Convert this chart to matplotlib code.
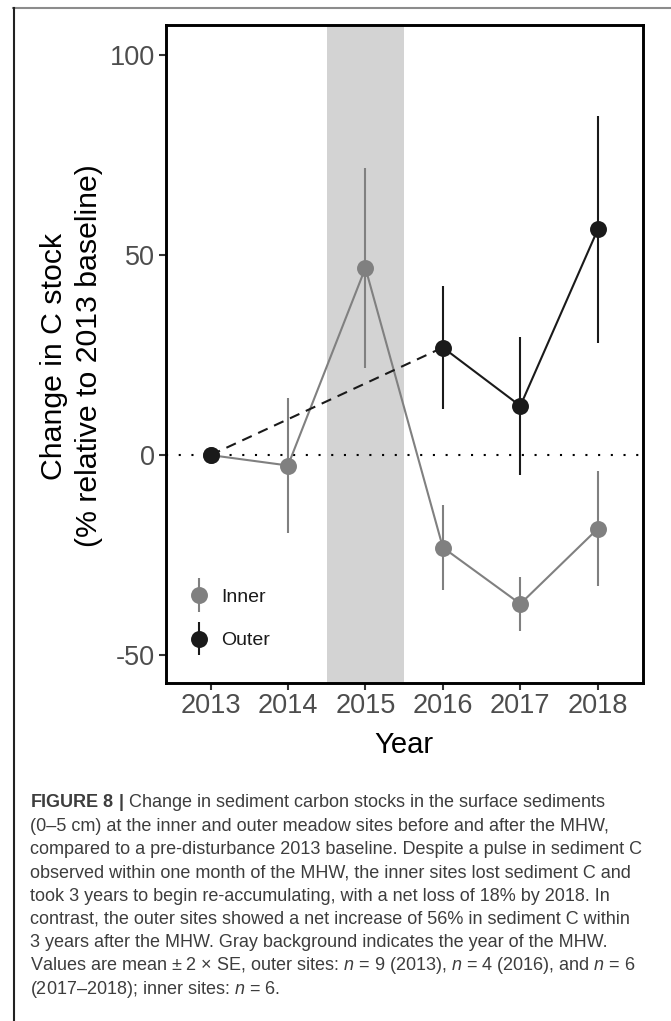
import matplotlib
matplotlib.use("Agg")
import matplotlib.pyplot as plt
from matplotlib import font_manager
from matplotlib.lines import Line2D
from matplotlib.container import ErrorbarContainer
from matplotlib.legend_handler import HandlerErrorbar

# ---------------- data ----------------
years = [2013, 2014, 2015, 2016, 2017, 2018]
inner_mean = [0.0, -2.6, 46.8, -23.1, -37.2, -18.4]
inner_err = [0.0, 16.9, 25.0, 10.6, 6.8, 14.4]

outer_years = [2013, 2016, 2017, 2018]
outer_mean = [0.0, 26.9, 12.3, 56.4]
outer_err = [0.0, 15.4, 17.3, 28.4]

mhw_span = (2014.5, 2015.5)
ytick_values = [-50, 0, 50, 100]
ytick_labels = ["-50", "0", "50", "100"]
series_labels = ["Inner", "Outer"]

caption_lines = [
    r"$\mathbf{FIGURE\ 8\ |}$ Change in sediment carbon stocks in the surface sediments",
    "(0–5 cm) at the inner and outer meadow sites before and after the MHW,",
    "compared to a pre-disturbance 2013 baseline. Despite a pulse in sediment C",
    "observed within one month of the MHW, the inner sites lost sediment C and",
    "took 3 years to begin re-accumulating, with a net loss of 18% by 2018. In",
    "contrast, the outer sites showed a net increase of 56% in sediment C within",
    "3 years after the MHW. Gray background indicates the year of the MHW.",
    r"Values are mean ± 2 × SE, outer sites: $\mathit{n}$ = 9 (2013), $\mathit{n}$ = 4 (2016), and $\mathit{n}$ = 6",
    r"(2017–2018); inner sites: $\mathit{n}$ = 6.",
]

# ---------------- style ----------------
plt.rcParams["font.family"] = ["Liberation Sans", "DejaVu Sans"]
plt.rcParams["mathtext.fontset"] = "custom"
plt.rcParams["mathtext.rm"] = "Liberation Sans"
plt.rcParams["mathtext.it"] = "Liberation Sans:italic"
plt.rcParams["mathtext.bf"] = "Liberation Sans:bold"
plt.rcParams["axes.unicode_minus"] = False

available = {f.name for f in font_manager.fontManager.ttflist}
if "Liberation Sans Narrow" in available:
    ylab_family = ["Liberation Sans Narrow", "DejaVu Sans"]
    ylab_size = 26.5
else:
    ylab_family = ["Liberation Sans", "DejaVu Sans"]
    ylab_size = 21.8

INNER_C = "#808080"
OUTER_C = "#1a1a1a"

W, H = 671, 1021
fig = plt.figure(figsize=(W / 100, H / 100), dpi=100)

def fx(px):
    return px / W

def fy(py):
    return 1 - py / H

ax = fig.add_axes([fx(165.6), fy(682.7), fx(642.7) - fx(165.6), fy(25.5) - fy(682.7)])
ax.set_xlim(2012.42, 2018.58)
ax.set_ylim(-56.9, 107.4)

ax.axvspan(*mhw_span, color="#d3d3d3", lw=0, zorder=0)
ax.axhline(0, color="black", lw=1.5, linestyle=(0, (1, 5.1)), zorder=1)

# inner series
ax.plot(years, inner_mean, color=INNER_C, lw=1.5, zorder=2)
eb_inner = ax.errorbar(years, inner_mean, yerr=inner_err, fmt="o", color=INNER_C,
                       ms=12.2, mew=0, elinewidth=1.5, capsize=0, zorder=3,
                       label=series_labels[0])
# outer series
ax.plot(outer_years[:2], outer_mean[:2], color=OUTER_C, lw=1.5,
        linestyle=(0, (5, 3.4)), zorder=4)
ax.plot(outer_years[1:], outer_mean[1:], color=OUTER_C, lw=1.5, zorder=4)
eb_outer = ax.errorbar(outer_years, outer_mean, yerr=outer_err, fmt="o", color=OUTER_C,
                       ms=12.2, mew=0, elinewidth=1.5, capsize=0, zorder=5,
                       label=series_labels[1])

ax.set_xticks(years)
ax.set_xticklabels([str(y) for y in years])
ax.set_yticks(ytick_values)
ax.set_yticklabels(ytick_labels)
ax.tick_params(axis="both", length=5, width=1.5, color="#333333",
               labelsize=19.5, labelcolor="#4d4d4d", pad=2.5)
for sp in ax.spines.values():
    sp.set_linewidth(2.1)
    sp.set_color("black")

leg = ax.legend(handles=[eb_inner, eb_outer], labels=series_labels,
                loc="center left", bbox_to_anchor=(fx(189), fy(618.7)),
                bbox_transform=fig.transFigure, frameon=False, fontsize=14,
                handlelength=1.0, handletextpad=0.65, borderpad=0,
                labelspacing=1.34, borderaxespad=0,
                handler_map={ErrorbarContainer: HandlerErrorbar(yerr_size=0.87)})
for t in leg.get_texts():
    t.set_color("#1a1a1a")

# axis titles
fig.text(fx(404), fy(752.7), "Year", ha="center", va="baseline", size=21, color="black")
fig.text(fx(61.7), fy(356), "Change in C stock", rotation=90, rotation_mode="anchor",
         ha="center", va="baseline", size=ylab_size, family=ylab_family, color="black")
fig.text(fx(97.3), fy(356), "(% relative to 2013 baseline)", rotation=90,
         rotation_mode="anchor", ha="center", va="baseline", size=ylab_size,
         family=ylab_family, color="black")

# frame lines of the figure panel
fig.add_artist(Line2D([fx(13), 1.0], [fy(8.5), fy(8.5)], transform=fig.transFigure,
                      color="#8c8c8c", lw=1.5))
fig.add_artist(Line2D([fx(13.5), fx(13.5)], [fy(8), 0.0], transform=fig.transFigure,
                      color="#222222", lw=1.5))

# caption
for i, line in enumerate(caption_lines):
    fig.text(fx(30.5), fy(807.3 + 23.3 * i), line, ha="left", va="baseline",
             size=13.0, color="#3d3d3d")

fig.savefig("out.png", dpi=100)
